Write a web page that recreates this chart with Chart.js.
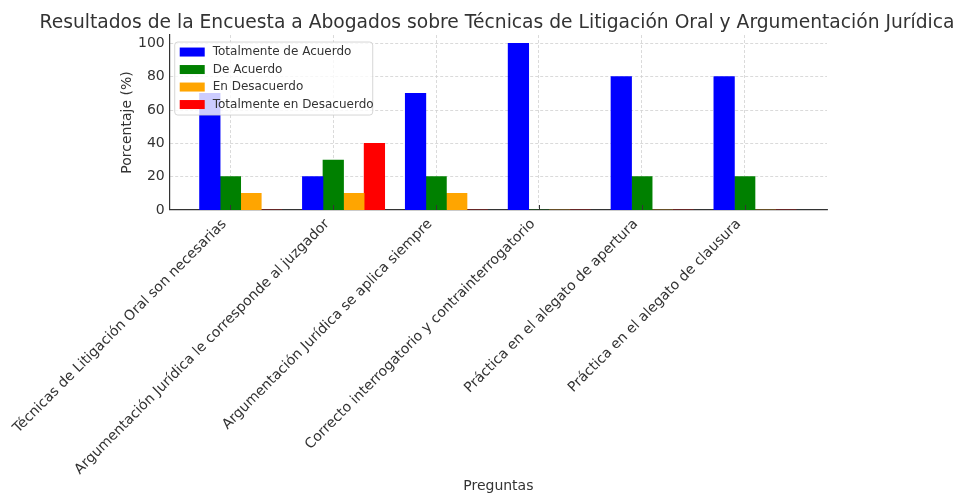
<!DOCTYPE html>
<html lang="es">
<head>
  <meta charset="UTF-8">
  <title>Encuesta a Abogados</title>
  <script src="https://cdn.jsdelivr.net/npm/chart.js"></script>
  <style>
    html, body { margin: 0; padding: 0; background: #fff; }
    #wrap { width: 956px; height: 493px; }
  </style>
</head>
<body>
  <div id="wrap"><canvas id="chart" width="956" height="493"></canvas></div>

  <script>
    // Data
    const preguntas = [
      'Técnicas de Litigación Oral son necesarias',
      'Argumentación Jurídica le corresponde al juzgador',
      'Argumentación Jurídica se aplica siempre',
      'Correcto interrogatorio y contrainterrogatorio',
      'Práctica en el alegato de apertura',
      'Práctica en el alegato de clausura'
    ];
    const totalmenteDeAcuerdo = [70, 20, 70, 100, 80, 80];
    const deAcuerdo = [20, 30, 20, 0, 20, 20];
    const enDesacuerdo = [10, 10, 10, 0, 0, 0];
    const totalmenteEnDesacuerdo = [0, 40, 0, 0, 0, 0];
    const yTicks = [0, 20, 40, 60, 80, 100];

    const series = [
      { label: 'Totalmente de Acuerdo', values: totalmenteDeAcuerdo, color: 'blue', offset: -1 },
      { label: 'De Acuerdo', values: deAcuerdo, color: 'green', offset: 0 },
      { label: 'En Desacuerdo', values: enDesacuerdo, color: 'orange', offset: 1 },
      { label: 'Totalmente en Desacuerdo', values: totalmenteEnDesacuerdo, color: 'red', offset: 2 }
    ];
    const barWidth = 0.2;

    const FONT = 'DejaVu Sans';
    const TEXT = '#333';

    // legend box drawn inside the plot area, on top of bars
    const innerLegend = {
      id: 'innerLegend',
      afterDatasetsDraw(chart) {
        const { ctx, chartArea } = chart;
        const x = chartArea.left + 5, y = chartArea.top + 7;
        const w = 198, h = 73;
        ctx.save();
        ctx.beginPath();
        ctx.roundRect(x, y, w, h, 3);
        ctx.fillStyle = 'rgba(255,255,255,0.8)';
        ctx.fill();
        ctx.strokeStyle = 'rgba(204,204,204,0.8)';
        ctx.lineWidth = 1;
        ctx.stroke();
        ctx.font = '12px "' + FONT + '"';
        ctx.textBaseline = 'middle';
        chart.data.datasets.forEach((ds, i) => {
          const cy = y + 10 + i * 17.5;
          ctx.fillStyle = ds.backgroundColor;
          ctx.fillRect(x + 5, cy - 4.5, 25, 9);
          ctx.fillStyle = TEXT;
          ctx.fillText(ds.label, x + 38, cy);
        });
        ctx.restore();
      }
    };

    // small inward tick marks on the x axis
    const innerTicks = {
      id: 'innerTicks',
      afterDatasetsDraw(chart) {
        const { ctx, chartArea, scales } = chart;
        ctx.save();
        ctx.strokeStyle = TEXT;
        ctx.lineWidth = 1;
        scales.x.ticks.forEach(t => {
          const px = Math.round(scales.x.getPixelForValue(t.value)) + 0.5;
          ctx.beginPath();
          ctx.moveTo(px, chartArea.bottom);
          ctx.lineTo(px, chartArea.bottom - 5);
          ctx.stroke();
        });
        ctx.restore();
      }
    };

    new Chart(document.getElementById('chart'), {
      type: 'bar',
      data: {
        datasets: series.map(s => ({
          label: s.label,
          data: s.values.map((v, i) => ({ x: i + s.offset * barWidth, y: v })),
          backgroundColor: s.color,
          borderWidth: 0,
          grouped: false,
          categoryPercentage: 1,
          barPercentage: 1
        }))
      },
      options: {
        responsive: false,
        animation: false,
        // left padding + empty right box keep the title centred over the plot like the reference
        layout: { padding: { left: 38, right: 0, top: 0, bottom: 0 } },
        plugins: {
          legend: { display: false },
          tooltip: { enabled: false },
          title: {
            display: true,
            text: 'Resultados de la Encuesta a Abogados sobre Técnicas de Litigación Oral y Argumentación Jurídica',
            color: TEXT,
            font: { family: FONT, size: 18.7, weight: 'normal', lineHeight: 1.2 },
            padding: { top: 11.5, bottom: 1.1 }
          }
        },
        scales: {
          x: {
            type: 'linear',
            offset: false,
            min: -0.59,
            max: 5.8,
            afterBuildTicks: scale => { scale.ticks = preguntas.map((_, i) => ({ value: i })); },
            afterFit: scale => { scale.height = 283; },
            ticks: {
              autoSkip: false,
              minRotation: 45,
              maxRotation: 45,
              padding: 6,
              labelOffset: -6,
              color: TEXT,
              font: { family: FONT, size: 14 },
              callback: v => preguntas[v]
            },
            grid: { color: '#d0d0d0', lineWidth: 0.8, drawTicks: false, offset: false },
            border: { display: true, color: TEXT, width: 1.2, dash: [3, 2] },
            title: {
              display: true,
              text: 'Preguntas',
              color: TEXT,
              font: { family: FONT, size: 14, lineHeight: 1 },
              padding: { top: 0, bottom: 0 }
            }
          },
          y: {
            min: 0,
            max: 105,
            afterBuildTicks: scale => { scale.ticks = yTicks.map(v => ({ value: v })); },
            afterFit: scale => { scale.width = 131; },
            ticks: {
              padding: 5,
              color: TEXT,
              font: { family: FONT, size: 14 }
            },
            grid: { color: '#d0d0d0', lineWidth: 0.8, drawTicks: false },
            border: { display: true, color: TEXT, width: 1.2, dash: [3, 2] },
            title: {
              display: true,
              text: 'Porcentaje (%)',
              color: TEXT,
              font: { family: FONT, size: 14, lineHeight: 1.2 },
              padding: { top: 80, bottom: 0 }
            }
          },
          yRight: {
            position: 'right',
            display: true,
            afterFit: scale => { scale.width = 129; },
            ticks: { display: false },
            grid: { display: false, drawTicks: false },
            border: { display: false }
          }
        }
      },
      plugins: [innerTicks, innerLegend]
    });
  </script>
</body>
</html>
